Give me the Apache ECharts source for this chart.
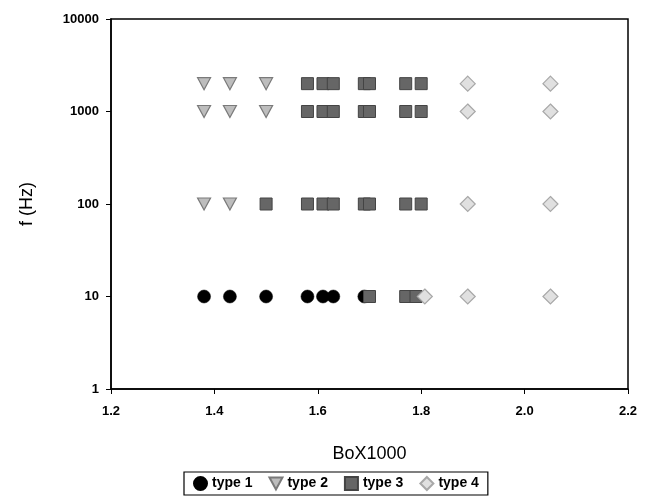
<!DOCTYPE html>
<html>
<head>
<meta charset="utf-8">
<script src="https://cdn.jsdelivr.net/npm/echarts@6/dist/echarts.min.js"></script>
<style>html,body{margin:0;padding:0;background:#fff;}#c{width:649px;height:496px;}</style>
</head>
<body>
<div id="c"></div>
<script>
// Data (BoX1000, f in Hz)
const type1 = [[1.38,10],[1.43,10],[1.50,10],[1.58,10],[1.61,10],[1.63,10],[1.69,10]];
const type2 = [[1.38,2000],[1.43,2000],[1.50,2000],
               [1.38,1000],[1.43,1000],[1.50,1000],
               [1.38,100],[1.43,100]];
const type3 = [[1.58,2000],[1.61,2000],[1.63,2000],[1.69,2000],[1.70,2000],[1.77,2000],[1.80,2000],
               [1.58,1000],[1.61,1000],[1.63,1000],[1.69,1000],[1.70,1000],[1.77,1000],[1.80,1000],
               [1.50,100],[1.58,100],[1.61,100],[1.63,100],[1.69,100],[1.70,100],[1.77,100],[1.80,100],
               [1.70,10],[1.77,10],[1.79,10]];
const type4 = [[1.89,2000],[2.05,2000],
               [1.89,1000],[2.05,1000],
               [1.89,100],[2.05,100],
               [1.807,10],[1.89,10],[2.05,10]];
const seriesNames = ['type 1','type 2','type 3','type 4'];
const xTicks = [1.2,1.4,1.6,1.8,2.0,2.2];
const yTicks = [1,10,100,1000,10000];

const triDown = 'path://M0,0 L12,0 L6,11 Z';
const chart = echarts.init(document.getElementById('c'), null, {renderer:'canvas'});
chart.setOption({
  animation:false,
  grid:{left:111, top:19, right:21, bottom:107, show:true, borderColor:'#000', borderWidth:1.5, backgroundColor:'transparent'},
  legend:{
    data:seriesNames,
    bottom:1, left:184,
    borderColor:'#000', borderWidth:1.2,
    padding:[4,9,4,9],
    itemGap:16, itemWidth:13, itemHeight:13,
    textStyle:{fontFamily:'Liberation Sans, Arial, sans-serif', fontWeight:'bold', fontSize:14, color:'#000'}
  },
  xAxis:{
    type:'value', min:1.2, max:2.2, interval:0.2,
    name:'BoX1000', nameLocation:'middle', nameGap:56,
    nameTextStyle:{fontFamily:'Liberation Sans, Arial, sans-serif', fontSize:18, color:'#000'},
    axisLine:{show:true, lineStyle:{color:'#000', width:1.5}},
    axisTick:{show:true, inside:false, length:5, lineStyle:{color:'#000'}},
    axisLabel:{margin:16, fontFamily:'Liberation Sans, Arial, sans-serif', fontWeight:'bold', fontSize:13, color:'#000',
      formatter:v=>xTicks.find(t=>Math.abs(t-v)<1e-9).toFixed(1)},
    splitLine:{show:false}
  },
  yAxis:{
    type:'log', logBase:10, min:1, max:10000,
    name:'f (Hz)', nameLocation:'middle', nameGap:75, nameRotate:90,
    nameTextStyle:{fontFamily:'Liberation Sans, Arial, sans-serif', fontSize:18, color:'#000'},
    axisLine:{show:true, lineStyle:{color:'#000', width:1.5}},
    axisTick:{show:true, inside:false, length:5, lineStyle:{color:'#000'}},
    axisLabel:{margin:12, fontFamily:'Liberation Sans, Arial, sans-serif', fontWeight:'bold', fontSize:13, color:'#000',
      formatter:v=>String(yTicks.find(t=>Math.abs(t-v)/t<1e-6) ?? Math.round(v))},
    splitLine:{show:false}
  },
  series:[
    {name:seriesNames[0], type:'scatter', data:type1, symbol:'circle', symbolSize:13,
     itemStyle:{color:'#000', borderColor:'#000', borderWidth:0.5, opacity:1}},
    {name:seriesNames[1], type:'scatter', data:type2, symbol:triDown, symbolSize:[13,12],
     itemStyle:{color:'#bdbdbd', borderColor:'#7a7a7a', borderWidth:1.2, opacity:1}},
    {name:seriesNames[2], type:'scatter', data:type3, symbol:'rect', symbolSize:12,
     itemStyle:{color:'#666', borderColor:'#444', borderWidth:1, opacity:1}},
    {name:seriesNames[3], type:'scatter', data:type4, symbol:'diamond', symbolSize:15,
     itemStyle:{color:'#e0e0e0', borderColor:'#a8a8a8', borderWidth:1.2, opacity:1}}
  ]
});
</script>
</body>
</html>
